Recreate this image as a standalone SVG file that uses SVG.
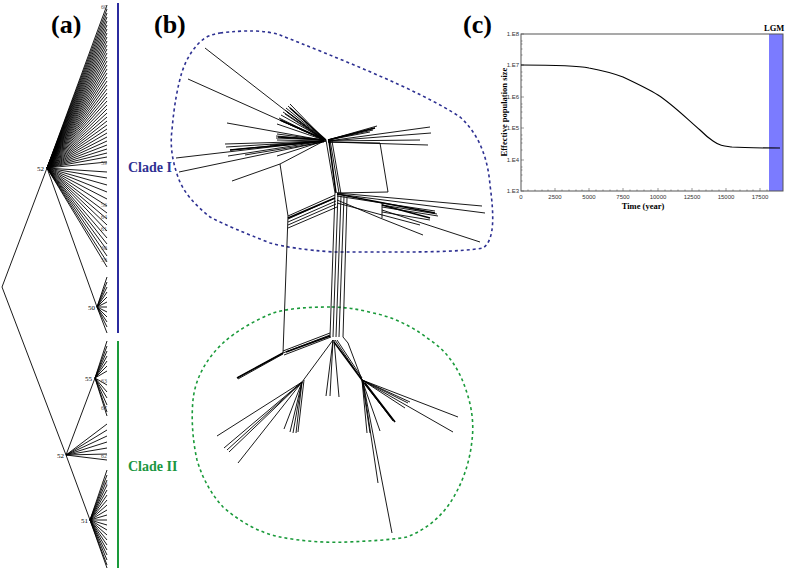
<svg xmlns="http://www.w3.org/2000/svg" width="787" height="571" viewBox="0 0 787 571">
<style>
.lbl{font-family:"Liberation Serif",serif;font-weight:bold;font-size:26px;fill:#000}
.tree{fill:none;stroke:#000;stroke-width:0.9}
.net{fill:none;stroke:#000;stroke-width:0.9}
.nett{fill:none;stroke:#000;stroke-width:1.6}
.tiny{font-family:"Liberation Serif",serif;font-size:6px;fill:#555}
.nl{font-family:"Liberation Serif",serif;font-size:7px;fill:#000}
.ax{font-family:"Liberation Sans",sans-serif;font-size:6px;fill:#333}
.axt{font-family:"Liberation Serif",serif;font-weight:bold;font-size:8.5px;fill:#000}
</style>
<rect width="787" height="571" fill="#fff"/>

<g id="panel-a">
<text class="lbl" x="51" y="33">(a)</text>
<path class="tree" d="M2,287 L47,168 M2,287 L66,455 M47,168 L97,307 M66,455 L95,378 M66,455 L90,520
M47,168 L107,5 M47,168 L107,9 M47,168 L107,13 M47,168 L107,17 M47,168 L107,21 M47,168 L107,25 M47,168 L107,29 M47,168 L107,33 M47,168 L107,37 M47,168 L107,41 M47,168 L107,45 M47,168 L107,49 M47,168 L107,53 M47,168 L107,57 M47,168 L107,61 M47,168 L107,65 M47,168 L107,69 M47,168 L107,73 M47,168 L107,77 M47,168 L107,81 M47,168 L107,85 M47,168 L107,89 M47,168 L107,93 M47,168 L107,97 M47,168 L107,101 M47,168 L107,105 M47,168 L107,109 M47,168 L107,113 M47,168 L107,117 M47,168 L107,121 M47,168 L107,125 M47,168 L107,129 M47,168 L107,133 M47,168 L107,137 M47,168 L107,141 M47,168 L107,145 M47,168 L107,149 M47,168 L107,153 M47,168 L107,157 M47,168 L107,162
M47,168 L107,172 M47,168 L107,178 M47,168 L107,185 M47,168 L107,192 M47,168 L107,199 M47,168 L107,206 M47,168 L107,213 M47,168 L107,219 M47,168 L107,225 M47,168 L107,231 M47,168 L107,238 M47,168 L107,244 M47,168 L107,250 M47,168 L107,256 M47,168 L107,262 M47,168 L107,267
M97,307 L107,277 M97,307 L107,282 M97,307 L107,287 M97,307 L107,292 M97,307 L107,297 M97,307 L107,302 M97,307 L107,307 M97,307 L107,312 M97,307 L107,317 M97,307 L107,322 M97,307 L107,327 M97,307 L107,333
M95,378 L107,341 M95,378 L107,346 M95,378 L107,351 M95,378 L107,356 M95,378 L107,361 M95,378 L107,366 M95,378 L107,371 M95,378 L107,385 M95,378 L107,392 M95,378 L107,398 M95,378 L107,405 M95,378 L107,412 M95,378 L107,416
M66,455 L107,424 M66,455 L107,430 M66,455 L107,436 M66,455 L107,442 M66,455 L107,448 M66,455 L107,454 M66,455 L107,460
M90,520 L107,470 M90,520 L107,475 M90,520 L107,480 M90,520 L107,485 M90,520 L107,490 M90,520 L107,495 M90,520 L107,500 M90,520 L107,505 M90,520 L107,510 M90,520 L107,515 M90,520 L107,520 M90,520 L107,525 M90,520 L107,530 M90,520 L107,535 M90,520 L107,540 M90,520 L107,545 M90,520 L107,550 M90,520 L107,555 M90,520 L107,560 M90,520 L107,565 M90,520 L107,568"/>
<text class="nl" x="37" y="171">52</text>
<text class="nl" x="88" y="310">50</text>
<text class="nl" x="85" y="381">55</text>
<text class="nl" x="57" y="458">52</text>
<text class="nl" x="81" y="523">51</text>
<text class="tiny" x="101" y="9">60</text>
<text class="tiny" x="101" y="165">59</text>
<text class="tiny" x="101" y="207">56</text>
<text class="tiny" x="101" y="219">64</text>
<text class="tiny" x="101" y="231">61</text>
<text class="tiny" x="101" y="250">60</text>
<text class="tiny" x="101" y="262">59</text>
<text class="tiny" x="101" y="383">63</text>
<text class="tiny" x="101" y="410">67</text>
<text class="tiny" x="101" y="458">62</text>
<text class="tiny" x="102" y="485">61</text>
</g>

<g id="clade-bars">
<line x1="118" y1="3" x2="118" y2="333" stroke="#2b2b9e" stroke-width="2"/>
<line x1="118" y1="341" x2="118" y2="568" stroke="#1a9a3a" stroke-width="2"/>
<text x="128" y="172" font-family="Liberation Serif,serif" font-weight="bold" font-size="14" fill="#2e3192">Clade I</text>
<text x="128" y="471" font-family="Liberation Serif,serif" font-weight="bold" font-size="14" fill="#1a9641">Clade II</text>
</g>

<g id="panel-b">
<text class="lbl" x="154" y="33">(b)</text>
<path fill="none" stroke="#2e3192" stroke-width="1.6" stroke-dasharray="3,3" d="M220,33 C245,30 265,30 280,35 C330,55 420,90 460,117 C480,135 488,160 490,185 C494,215 495,240 483,248 C460,252 420,252 393,252 C370,252 350,252 333,252 C305,250 285,247 270,243 C245,233 225,225 210,217 C195,205 183,192 178,177 C172,160 170,145 172,130 C174,105 178,85 182,72 C187,57 195,45 205,38 C210,35 215,34 220,33 Z"/>
<path fill="none" stroke="#1a9a3a" stroke-width="1.6" stroke-dasharray="3,3" d="M330,307 C310,307 290,308 273,313 C255,320 235,332 223,343 C205,360 195,380 193,400 C191,420 193,442 197,460 C203,480 212,495 223,507 C240,522 260,533 280,537 C300,541 325,543 347,542 C370,541 390,540 407,537 C425,530 440,518 450,503 C462,485 470,462 472,440 C474,425 472,408 467,393 C460,370 448,352 430,340 C412,326 393,317 373,313 C358,309 345,307 330,307 Z"/>
<path class="net" d="M322,139 L205,48 M322,139 L188,79 M322,140 L227,123 M322,141 L225,144 M322,141 L176,158 M322,142 L179,172 M322,142 L280,164 L232,181
M324,139 L290,104 M324,139 L288,106 M324,139 L286,108 M324,139 L285,110 M324,139 L283,112 M324,139 L281,115 M324,140 L279,118 M324,140 L282,121 M324,140 L277,124 M324,140 L285,114 M324,140 L287,112
M324,140 L277,134 M324,140 L276,136 M324,140 L276,138 M324,141 L277,140 M324,141 L226,147 M324,141 L230,150 M324,141 L228,156 M324,141 L277,156 M324,141 L270,145 M324,142 L245,155
M328,140 L377,126 M328,140 L375,128 M328,140 L373,130 M328,140 L370,132 M328,141 L430,127 M328,141 L431,133 M328,142 L428,145 M328,141 L420,140 M328,142 L380,143 L388,192
M280,164 L288,216 M288,216 L335,195 M288,219 L335,198 M288,222 L336,201 M288,225 L336,204 M288,228 L337,207
M337,193 L388,192 M337,193 L482,206 M337,194 L485,213 M337,196 L382,203 M382,203 L435,211 M382,205 L437,214 M382,207 L438,216 M382,203 L382,218 M337,200 L380,218 L423,235 M382,210 L480,242 M382,212 L430,220 M337,203 L420,225
M326,140 L335,193 M330,140 L339,193 M332,141 L341,194
M335,193 L330,337 M338,193 L333,337 M341,196 L336,337 M344,196 L339,337 M347,198 L343,337
M288,216 L283,353
M283,353 L330,335 M283,351 L330,333 M284,355 L331,337 M283,353 L237,378 M283,354 L238,379
M333,340 L302,382 M302,382 L217,436 M302,382 L227,450 M302,382 L229,452 M302,382 L238,463 M302,382 L284,429 M302,382 L290,432 M302,382 L293,433 M302,382 L296,433 M302,382 L224,448 M304,380 L298,432
M333,340 L326,396 M333,340 L330,396 M334,340 L339,397
M343,337 L348,343 L362,380 M335,340 L362,380 M337,340 L362,378
M362,380 L367,433 M362,380 L380,431 M362,380 L395,422 M362,380 L393,421 M362,381 L392,419 M362,380 L410,402 M362,380 L405,408 M362,380 L458,417 M362,380 L453,432 M363,382 L378,483 M363,382 L392,533 M362,380 L408,403 M362,380 L370,433"/>
<path class="nett" d="M326,140 L290,108 M326,140 L280,120 M326,140 L278,137 M326,141 L230,150 M328,140 L375,128 M329,141 L336,193 M288,218 L335,198 M337,194 L435,213 M382,205 L430,218 M286,352 L330,336 M283,353 L237,378 M334,342 L362,380 M365,383 L395,422"/>
</g>

<g id="panel-c">
<text class="lbl" x="463" y="33">(c)</text>
<rect x="769" y="34" width="14" height="157" fill="#7b7bff"/>
<rect x="521" y="34" width="262" height="157" fill="none" stroke="#555" stroke-width="1"/>
<text x="764" y="31" font-family="Liberation Serif,serif" font-weight="bold" font-size="8.5" fill="#000">LGM</text>
<path fill="none" stroke="#555" stroke-width="0.6" d="M521,34 h3 M521,65 h3 M521,97 h3 M521,128 h3 M521,160 h3 M521,191 h3
M521,55 h1.5 M521,49 h1.5 M521,44 h1.5 M521,41 h1.5 M521,87 h1.5 M521,80 h1.5 M521,76 h1.5 M521,72 h1.5 M521,118 h1.5 M521,112 h1.5 M521,107 h1.5 M521,104 h1.5 M521,150 h1.5 M521,143 h1.5 M521,139 h1.5 M521,135 h1.5 M521,181 h1.5 M521,175 h1.5 M521,170 h1.5 M521,167 h1.5
M555,191 v-3 M589,191 v-3 M623,191 v-3 M658,191 v-3 M692,191 v-3 M726,191 v-3 M760,191 v-3
M528,191 v-1.5 M535,191 v-1.5 M542,191 v-1.5 M548,191 v-1.5 M562,191 v-1.5 M569,191 v-1.5 M576,191 v-1.5 M582,191 v-1.5 M596,191 v-1.5 M603,191 v-1.5 M610,191 v-1.5 M617,191 v-1.5 M630,191 v-1.5 M637,191 v-1.5 M644,191 v-1.5 M651,191 v-1.5 M665,191 v-1.5 M671,191 v-1.5 M678,191 v-1.5 M685,191 v-1.5 M699,191 v-1.5 M706,191 v-1.5 M712,191 v-1.5 M719,191 v-1.5 M733,191 v-1.5 M740,191 v-1.5 M747,191 v-1.5 M753,191 v-1.5 M767,191 v-1.5"/>
<g class="ax" text-anchor="end">
<text x="519" y="36">1.E8</text>
<text x="519" y="67">1.E7</text>
<text x="519" y="99">1.E6</text>
<text x="519" y="130">1.E5</text>
<text x="519" y="162">1.E4</text>
<text x="519" y="193">1.E3</text>
</g>
<g class="ax" text-anchor="middle">
<text x="521" y="199">0</text>
<text x="555" y="199">2500</text>
<text x="589" y="199">5000</text>
<text x="623" y="199">7500</text>
<text x="658" y="199">10000</text>
<text x="692" y="199">12500</text>
<text x="726" y="199">15000</text>
<text x="760" y="199">17500</text>
</g>
<text class="axt" x="643" y="209" text-anchor="middle" font-size="9">Time (year)</text>
<text class="axt" transform="translate(507,112) rotate(-90)" text-anchor="middle">Effective population size</text>
<path fill="none" stroke="#000" stroke-width="1.1" d="M521,65 C550,65 575,65 589,68 C605,71 615,74 623,77 C640,85 650,90 658,95 C672,104 685,117 700,130 C706,136 710,139 713,141 C720,146 724,146 732,147 C745,148 760,148 780,148"/>
</g>
</svg>
